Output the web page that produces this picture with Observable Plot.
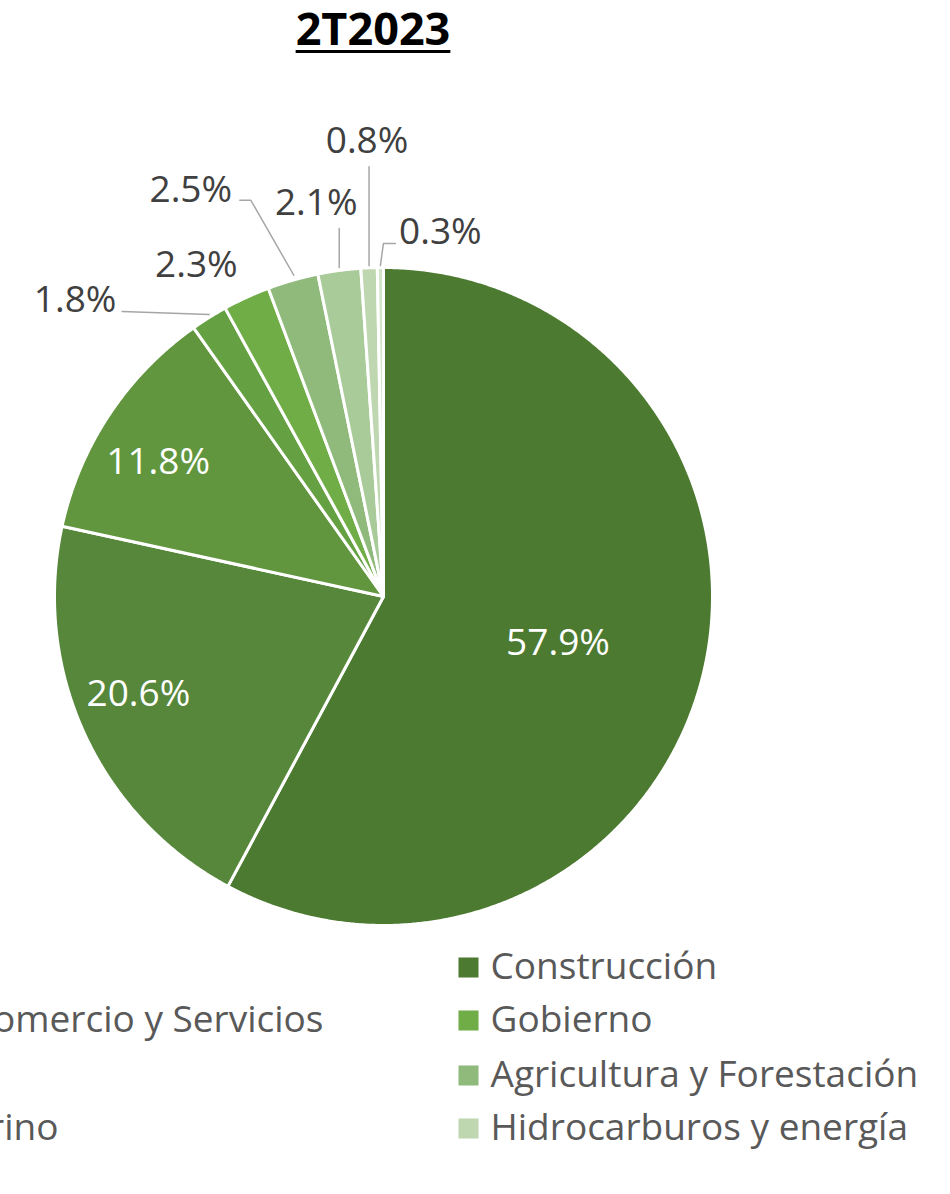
<!DOCTYPE html>
<html><head><meta charset="utf-8">
<script src="https://cdn.jsdelivr.net/npm/d3@7"></script>
<script src="https://cdn.jsdelivr.net/npm/@observablehq/plot@0.6"></script>
<style>
html,body{margin:0;padding:0;background:#fff;}
body{width:950px;height:1194px;overflow:hidden;position:relative;}
#title{position:absolute;left:0;top:0;width:746px;height:60px;text-align:center;font-family:"Open Sans",sans-serif;font-weight:700;font-size:45px;line-height:56px;color:#000;text-decoration:underline;text-decoration-thickness:3px;text-underline-offset:5px;}
#chart{position:absolute;left:0;top:60px;}
</style>
</head><body>
<div id="title">2T2023</div>
<div id="chart"></div>
<script>
// ---- data ----
const sectors = ["Construcción","Comercio y Servicios","Industria Manufacturera","Transporte","Gobierno","Agricultura y Forestación","Minería","Hidrocarburos y energía","Marino"];
const shares = [57.9, 20.6, 11.8, 1.8, 2.3, 2.5, 2.1, 0.8, 0.3];
const colors = ["#4c7a31","#56873b","#61963e","#65a042","#70ad47","#8fba7b","#a9cb9a","#bed7b1","#d3e5c9"];
const legendRight = ["Construcción","Gobierno","Agricultura y Forestación","Hidrocarburos y energía"];
const legendLeft = ["Comercio y Servicios","Marino"];

// ---- layout ----
const W = 950, H = 1134, TOP = 60;
const cx = 383, cy = 596, R = 329;
// label placement per slice: inside -> [radius factor, dx, dy]; outside -> label offset from edge + leader offsets
const inside = {0:[0.55,-1,3], 1:[0.78,-12,-10], 2:[0.80,-6,11]};
const outside = {
  3:{lab:[-134,-17], lead:[[0,-3],[-87,-6]]},
  4:{lab:[-50,-32], lead:null},
  5:{lab:[-102,-90], lead:[[1,-5],[-42,-80],[-53,-80]]},
  6:{lab:[-23,-67], lead:[[0,-3],[0,-42]]},
  7:{lab:[-2,-127], lead:[[0,-2],[0,-101]]},
  8:{lab:[60,-35], lead:[[0,-2],[3,-24],[15,-24]]}
};

const arcs = d3.pie().sort(null).value(d => d)(shares);
const px = (a, r) => cx + r * R * Math.sin(a);
const py = (a, r) => cy - r * R * Math.cos(a);

const sliceMarks = arcs.map((a, i) => {
  const pts = [{x: cx, y: cy}];
  const n = Math.max(2, Math.ceil((a.endAngle - a.startAngle) / 0.005));
  for (let k = 0; k <= n; k++) {
    const t = a.startAngle + (a.endAngle - a.startAngle) * k / n;
    pts.push({x: px(t, 1), y: py(t, 1)});
  }
  pts.push({x: cx, y: cy});
  return Plot.line(pts, {x: "x", y: "y", fill: colors[i], stroke: "white", strokeWidth: 3, strokeLinejoin: "round"});
});

const labelsIn = [], labelsOut = [], leaders = [];
arcs.forEach((a, i) => {
  const mid = (a.startAngle + a.endAngle) / 2;
  const txt = shares[i].toFixed(1) + "%";
  if (inside[i]) {
    const [r, dx, dy] = inside[i];
    labelsIn.push({x: px(mid, r) + dx, y: py(mid, r) + dy, t: txt});
  } else if (outside[i]) {
    const ex = px(mid, 1), ey = py(mid, 1);
    const o = outside[i];
    labelsOut.push({x: ex + o.lab[0], y: ey + o.lab[1], t: txt});
    if (o.lead) o.lead.forEach(([dx, dy]) => leaders.push({x: ex + dx, y: ey + dy, k: i}));
  }
});

const legendRowY = [967, 1020, 1075, 1128];
const legR = legendRight.map((s, j) => ({x: 468, tx: 490, y: legendRowY[j], s, c: colors[sectors.indexOf(s)]}));
const legL = [{s: legendLeft[0], x: 323, y: legendRowY[1]}, {s: legendLeft[1], x: 58, y: legendRowY[3]}];

const font = '"Open Sans", sans-serif';
const chart = Plot.plot({
  width: W, height: H,
  margin: 0,
  x: {type: "linear", domain: [0, W], range: [0, W], axis: null},
  y: {type: "linear", domain: [TOP, TOP + H], range: [0, H], axis: null},
  style: {fontFamily: font, background: "white"},
  marks: [
    ...sliceMarks,
    Plot.line(leaders, {x: "x", y: "y", z: "k", stroke: "#a6a6a6", strokeWidth: 1.5}),
    Plot.text(labelsIn, {x: "x", y: "y", text: "t", fill: "white", fontSize: 37, fontFamily: font}),
    Plot.text(labelsOut, {x: "x", y: "y", text: "t", fill: "#404040", fontSize: 37, fontFamily: font}),
    Plot.dot(legR, {x: "x", y: "y", symbol: "square", r: 11.3, fill: "c", stroke: null}),
    Plot.text(legR, {x: "tx", y: "y", text: "s", textAnchor: "start", fill: "#595959", fontSize: 37, fontFamily: font}),
    Plot.text(legL, {x: "x", y: "y", text: "s", textAnchor: "end", fill: "#595959", fontSize: 37, fontFamily: font})
  ]
});
document.getElementById("chart").appendChild(chart);
</script>
</body></html>
